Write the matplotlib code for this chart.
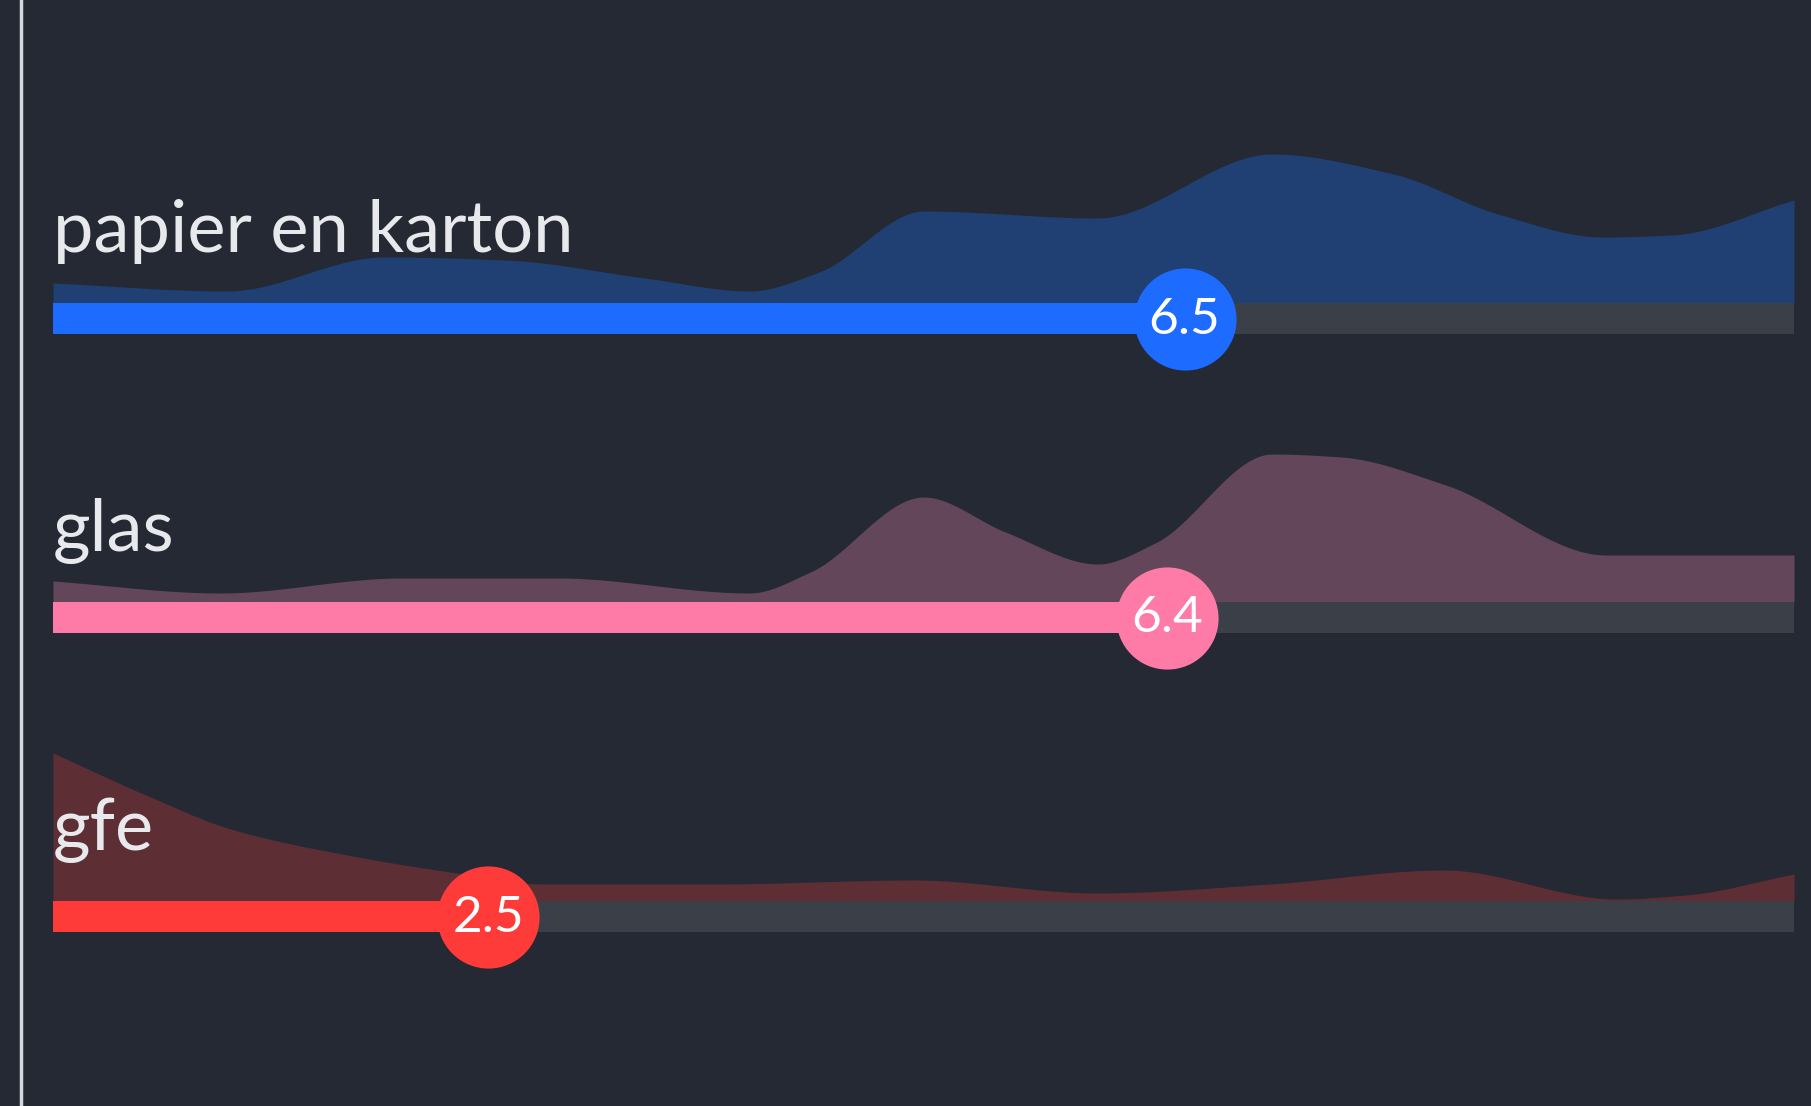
import numpy as np
import matplotlib.pyplot as plt

# categorieën en scores (schaal 0-10)
labels = ["papier en karton", "glas", "gfe"]
scores = [6.5, 6.4, 2.5]
value_labels = ["6.5", "6.4", "2.5"]

# verdeling boven elke balk (hoogte in px boven de balk)
dist_x_1 = [0, 1.0, 1.9, 2.6, 3.4, 4.0, 4.4, 5.0, 6.0, 7.0, 7.7, 8.3, 8.9, 9.3, 10]
dist_h_1 = [20, 12, 46, 43, 25, 12, 31, 92, 85, 149, 129, 89, 66, 68, 103]
dist_x_2 = [0, 0.96, 2.0, 2.9, 4.0, 4.35, 5.0, 5.47, 6.0, 6.33, 7.0, 7.4, 8.0, 8.92, 10]
dist_h_2 = [21, 9, 24, 24, 9, 30, 105, 70, 38, 59, 148, 145, 117, 47, 47]
dist_x_3 = [0, 0.56, 1.02, 1.69, 2.28, 2.81, 3.81, 4.94, 6.0, 6.99, 7.99, 8.98, 9.38, 10]
dist_h_3 = [148, 104, 72, 46, 29, 17, 17, 21, 8, 17, 31, 2, 6, 27]

main_colors = ["#1d6bff", "#ff7ba7", "#ff3b3a"]
area_colors = ["#203f72", "#634659", "#5e2e35"]
bg = "#242933"
track = "#3a3f48"

W, H = 1811, 1106
x0_px, x1_px = 53, 1794
px_per_unit = (x1_px - x0_px) / 10.0
bar_tops = [303, 602, 901]
bar_h = 31


def pchip(x, y, xs):
    # monotone kubische interpolatie voor een vloeiende rand
    x = np.asarray(x, float)
    y = np.asarray(y, float)
    h = np.diff(x)
    d = np.diff(y) / h
    m = np.zeros_like(y)
    for k in range(1, len(y) - 1):
        if d[k - 1] * d[k] > 0:
            w1 = 2 * h[k] + h[k - 1]
            w2 = h[k] + 2 * h[k - 1]
            m[k] = (w1 + w2) / (w1 / d[k - 1] + w2 / d[k])
    m[0] = d[0]
    m[-1] = d[-1]
    idx = np.clip(np.searchsorted(x, xs) - 1, 0, len(x) - 2)
    t = (xs - x[idx]) / h[idx]
    h00 = 2 * t**3 - 3 * t**2 + 1
    h10 = t**3 - 2 * t**2 + t
    h01 = -2 * t**3 + 3 * t**2
    h11 = t**3 - t**2
    return (h00 * y[idx] + h10 * h[idx] * m[idx] +
            h01 * y[idx + 1] + h11 * h[idx] * m[idx + 1])


fig = plt.figure(figsize=(W / 100, H / 100), dpi=100, facecolor=bg)
ax = fig.add_axes([0, 0, 1, 1])
ax.set_facecolor(bg)
ax.set_xlim(-x0_px / px_per_unit, (W - x0_px) / px_per_unit)
ax.set_ylim(H, 0)
ax.axis("off")

# verticale lijn links
ax.axvline((21 - x0_px) / px_per_unit, color="#d6d8dd", lw=2.5)

dists = [(dist_x_1, dist_h_1), (dist_x_2, dist_h_2), (dist_x_3, dist_h_3)]
xs = np.linspace(0, 10, 600)

for i, lab in enumerate(labels):
    top = bar_tops[i]
    dx, dh = dists[i]
    ys = np.clip(pchip(dx, dh, xs), 0, None)
    ax.fill_between(xs, top, top - ys, color=area_colors[i], lw=0, zorder=1)

    ax.barh(top + bar_h / 2, 10, height=bar_h, left=0, color=track, zorder=2)
    ax.barh(top + bar_h / 2, scores[i], height=bar_h, left=0,
            color=main_colors[i], zorder=3)
    ax.scatter([scores[i]], [top + bar_h / 2], s=102**2 * 0.52,
               color=main_colors[i], zorder=4, lw=0)
    ax.text(scores[i], top + bar_h / 2 + 1, value_labels[i], color="white",
            fontsize=37, ha="center", va="center", family="Lato", zorder=5)
    ax.text(0, top - 51, lab, color="#e8e9ec", fontsize=52, family="Lato",
            ha="left", va="baseline", zorder=5)

fig.savefig("out.png", dpi=100, facecolor=bg)
